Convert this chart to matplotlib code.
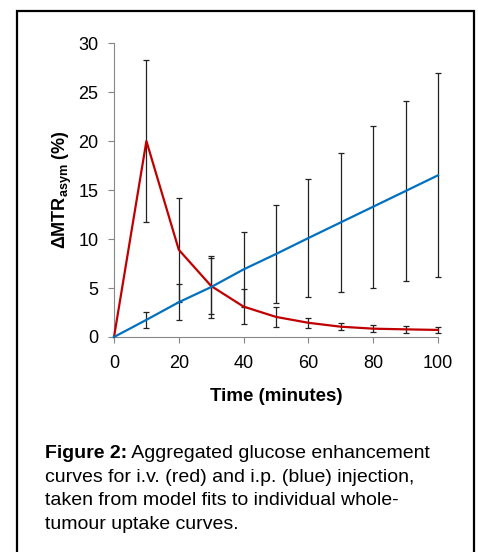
import matplotlib
matplotlib.use('Agg')
import matplotlib.pyplot as plt
from matplotlib.patches import Rectangle

plt.rcParams['font.family'] = ['Liberation Sans', 'DejaVu Sans']
plt.rcParams['mathtext.fontset'] = 'custom'
plt.rcParams['mathtext.rm'] = 'Liberation Sans'
plt.rcParams['mathtext.bf'] = 'Liberation Sans:bold'

# Time points (minutes)
time_min = [0, 10, 20, 30, 40, 50, 60, 70, 80, 90, 100]

# i.v. injection (red)
iv_mean = [0, 20.0, 8.9, 5.2, 3.1, 2.05, 1.45, 1.05, 0.85, 0.78, 0.72]
iv_err = [0, 8.25, 5.3, 2.9, 1.8, 1.0, 0.5, 0.35, 0.33, 0.34, 0.34]

# i.p. injection (blue)
ip_mean = [0, 1.75, 3.55, 5.1, 6.9, 8.47, 10.1, 11.7, 13.3, 14.9, 16.5]
ip_err = [0, 0.85, 1.85, 3.15, 3.85, 5.0, 6.05, 7.1, 8.25, 9.2, 10.4]

x_ticks = [0, 20, 40, 60, 80, 100]
y_ticks = [0, 5, 10, 15, 20, 25, 30]

caption_lines = [
    'curves for i.v. (red) and i.p. (blue) injection,',
    'taken from model fits to individual whole-',
    'tumour uptake curves.',
]

fig = plt.figure(figsize=(4.78, 5.52), dpi=100)
ax = fig.add_axes([0.2385, 0.3895, 0.6778, 0.5325])

# error bars first, skip the zero point
for mean, err in [(iv_mean, iv_err), (ip_mean, ip_err)]:
    eb = ax.errorbar(time_min[1:], mean[1:], yerr=err[1:], fmt='none',
                     ecolor='#222222', elinewidth=0.9, capsize=2.2,
                     capthick=0.9, zorder=2)
    for art in eb.lines[1] + eb.lines[2]:
        art.set_clip_on(False)

ax.plot(time_min, iv_mean, color='#C00000', lw=1.6, zorder=3, clip_on=False)
ax.plot(time_min, ip_mean, color='#0070C0', lw=1.6, zorder=3, clip_on=False)

ax.set_xlim(0, 100)
ax.set_ylim(0, 30)
ax.set_xticks(x_ticks)
ax.set_yticks(y_ticks)

for side in ['top', 'right']:
    ax.spines[side].set_visible(False)
for side in ['left', 'bottom']:
    ax.spines[side].set_color('#868686')
    ax.spines[side].set_linewidth(0.8)

ax.tick_params(axis='both', direction='out', length=4.3, width=0.8,
               color='#868686', labelsize=13, labelcolor='black')
ax.tick_params(axis='x', pad=9)
ax.tick_params(axis='y', pad=7)

ax.set_xlabel('Time (minutes)', fontsize=13.5, fontweight='bold', labelpad=11)
ax.set_ylabel(r'$\mathbf{\Delta MTR}_{\mathbf{asym}}$ (%)', fontsize=13,
              fontweight='bold', labelpad=3)

# caption
cap_fs = 14
cap_x = 45 / 478
cap_y0 = 0.1625
cap_step = 23.5 / 552
t1 = fig.text(cap_x, cap_y0, 'Figure 2:', fontsize=cap_fs, fontweight='bold',
              va='bottom', ha='left')
ax.annotate(' Aggregated glucose enhancement', xy=(1, 0), xycoords=t1,
            fontsize=cap_fs, va='bottom', ha='left', annotation_clip=False)
for i, line in enumerate(caption_lines):
    fig.text(cap_x, cap_y0 - (i + 1) * cap_step, line, fontsize=cap_fs,
             va='bottom', ha='left')

# outer frame (bottom edge runs off the image)
frame = Rectangle((17 / 478, -0.05), (474 - 17) / 478, 0.05 + (552 - 11) / 552,
                  transform=fig.transFigure, fill=False, edgecolor='black',
                  linewidth=1.6, clip_on=False)
fig.patches.append(frame)

fig.savefig('out.png', dpi=100)
